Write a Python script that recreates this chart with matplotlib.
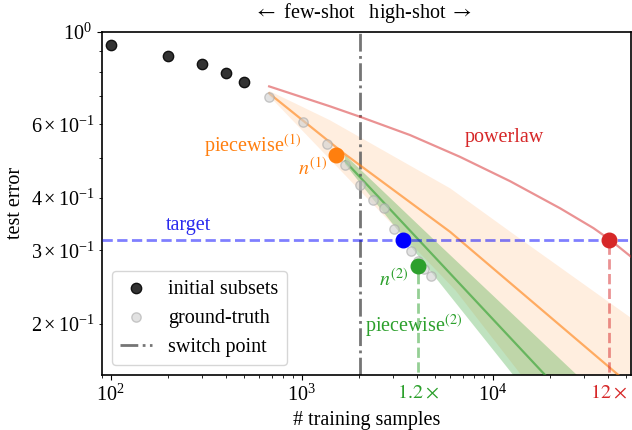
import numpy as np
import matplotlib
matplotlib.use("Agg")
import matplotlib.pyplot as plt
import matplotlib.transforms as mtransforms

plt.rcParams['font.family'] = 'serif'
plt.rcParams['font.serif'] = ['Liberation Serif', 'DejaVu Serif']
plt.rcParams['mathtext.fontset'] = 'stix'
plt.rcParams['font.size'] = 14.5

# initial subsets (few-shot)
init_n = [100, 200, 300, 400, 500]
init_err = [0.929, 0.875, 0.837, 0.798, 0.759]

# ground truth curve
gt_n = [675, 1012, 1350, 1687, 2025, 2362, 2700, 3037, 3375, 3712, 4050, 4387, 4725]
gt_err = [0.697, 0.607, 0.538, 0.480, 0.430, 0.395, 0.378, 0.337, 0.318, 0.299, 0.283, 0.270, 0.260]

switch_n = 2025
target = 0.318

# powerlaw fit
pl_n = [675, 1406, 2018, 3690, 6740, 12330, 22570, 33700, 41100, 52800]
pl_err = [0.740, 0.663, 0.626, 0.566, 0.502, 0.439, 0.378, 0.339, 0.318, 0.290]

# piecewise (1) fit + band
pw1_n = [675, 1650, 5990, 45500, 48000]
pw1_err = [0.712, 0.513, 0.332, 0.151, 0.147]
pw1_up_n = [675, 1406, 5990, 14200, 52800]
pw1_up = [0.722, 0.614, 0.422, 0.3175, 0.207]
pw1_lo_n = [675, 6370, 14100, 52800]
pw1_lo = [0.702, 0.241, 0.151, 0.07]

# piecewise (2) fit + band
pw2_n = [1687, 18800, 20000]
pw2_err = [0.490, 0.151, 0.147]
pw2_up_n = [1687, 4890, 27600, 52800]
pw2_up = [0.507, 0.319, 0.151, 0.105]
pw2_lo_n = [1687, 12800, 52800]
pw2_lo = [0.482, 0.151, 0.06]

n1 = (1520, 0.508)
n_target = (3375, target)
n2 = (4050, 0.2755)
n_pl = (40500, target)

fig = plt.figure(figsize=(6.32, 4.30), dpi=100)
ax = fig.add_axes([0.1614, 0.1279, 0.8366, 0.7984])
ax.set_xscale('log')
ax.set_yscale('log')

ax.fill(pw1_up_n + pw1_lo_n[::-1], pw1_up + pw1_lo[::-1],
        color='tab:orange', alpha=0.13, lw=0, zorder=1)
ax.fill(pw2_up_n + pw2_lo_n[::-1], pw2_up + pw2_lo[::-1],
        color='tab:green', alpha=0.3, lw=0, zorder=2)

ax.plot(pl_n, pl_err, color='tab:red', alpha=0.5, lw=1.6, zorder=3)
ax.plot(pw1_n, pw1_err, color='tab:orange', alpha=0.6, lw=1.6, zorder=3)
ax.plot(pw2_n, pw2_err, color='tab:green', alpha=0.6, lw=1.6, zorder=3)

sw = ax.axvline(switch_n, color='#666666', ls='-.', lw=2, alpha=0.9, zorder=2)
ax.axhline(target, color='blue', ls='--', lw=2, alpha=0.5, zorder=3)
ax.plot([n2[0], n2[0]], [0.1, n2[1]], color='tab:green', ls='--', lw=2, alpha=0.5, zorder=3)
ax.plot([n_pl[0], n_pl[0]], [0.1, n_pl[1]], color='tab:red', ls='--', lw=2, alpha=0.5, zorder=3)

ini = ax.scatter(init_n, init_err, s=55, color='#333333', edgecolors='#111111', lw=1,
                 zorder=5)
gt = ax.scatter(gt_n, gt_err, s=45, color='#d0d0d0', edgecolors='#aaaaaa', lw=1,
                alpha=0.6, zorder=4)

ax.scatter(*n1, s=110, color='tab:orange', zorder=6)
ax.scatter(*n_target, s=110, color='blue', zorder=6)
ax.scatter(*n2, s=110, color='tab:green', zorder=6)
ax.scatter(*n_pl, s=110, color='tab:red', zorder=6)

ax.text(556, 0.533, 'piecewise$^{(1)}$', color='tab:orange', ha='center', va='center')
ax.text(1361, 0.472, '$n^{(1)}$', color='tab:orange', ha='right', va='center')
ax.text(11460, 0.557, 'powerlaw', color='tab:red', ha='center', va='center')
ax.text(254, 0.344, 'target', color='#2a2aee', ha='center', va='center')
ax.text(3606, 0.255, '$n^{(2)}$', color='tab:green', ha='right', va='center')
ax.text(3873, 0.198, 'piecewise$^{(2)}$', color='tab:green', ha='center', va='center')

trans = mtransforms.blended_transform_factory(ax.transData, ax.transAxes)
ax.text(n2[0], -0.025, r'$1.2\times$', color='tab:green', ha='center', va='top',
        transform=trans)
ax.text(n_pl[0], -0.025, r'$12\times$', color='tab:red', ha='center', va='top',
        transform=trans)
ax.text(2100, 1.055, r'$\leftarrow$ few-shot   high-shot $\rightarrow$',
        ha='center', va='center', transform=trans)

ax.set_xlim(90, 52800)
ax.set_ylim(0.151, 1.0)
ax.set_xlabel('# training samples')
ax.set_ylabel('test error')
for sp in ax.spines.values():
    sp.set_linewidth(1.2)

ax.legend([ini, gt, sw], ['initial subsets', 'ground-truth', 'switch point'],
          loc='lower left', fontsize=14.5, handlelength=1.6)

fig.savefig('out.png', dpi=100)
